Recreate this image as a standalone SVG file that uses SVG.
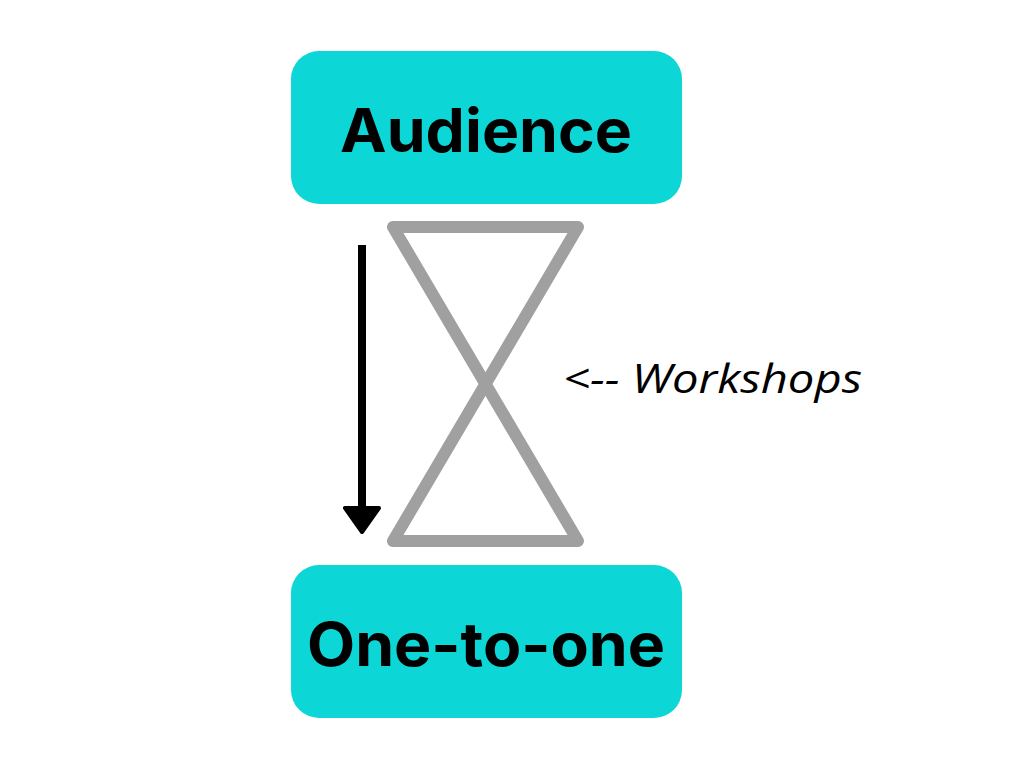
<svg xmlns="http://www.w3.org/2000/svg" width="1024" height="768" viewBox="0 0 1024 768">
<style>
.box{fill:#0cd6d6}
.lbl{font-family:"Inter","Liberation Sans",sans-serif;font-weight:bold;font-size:60px;fill:#000;text-anchor:middle}
</style>
<rect width="1024" height="768" fill="#fff"/>
<g id="audience"><rect class="box" x="291" y="51" width="391" height="153" rx="28"/><text class="lbl" x="486" y="152" textLength="292" lengthAdjust="spacingAndGlyphs">Audience</text></g>
<g id="onetoone"><rect class="box" x="291" y="565" width="391" height="153" rx="28"/><text class="lbl" x="486" y="666" textLength="358" lengthAdjust="spacingAndGlyphs">One-to-one</text></g>
<g id="hourglass"><path d="M393 227 L578 227 L393 541 L578 541 Z" fill="none" stroke="#a0a0a0" stroke-width="12" stroke-linejoin="round"/></g>
<g id="connectors"><line x1="362" y1="245" x2="362" y2="512" stroke="#000" stroke-width="8"/><path d="M345 508 L379 508 L362 532 Z" fill="#000" stroke="#000" stroke-width="4" stroke-linejoin="round"/></g>
<text x="563" y="393" font-family="'Open Sans','Liberation Sans',sans-serif" font-style="italic" font-size="40" fill="#000" textLength="299" lengthAdjust="spacingAndGlyphs">&lt;-- Workshops</text>
</svg>
